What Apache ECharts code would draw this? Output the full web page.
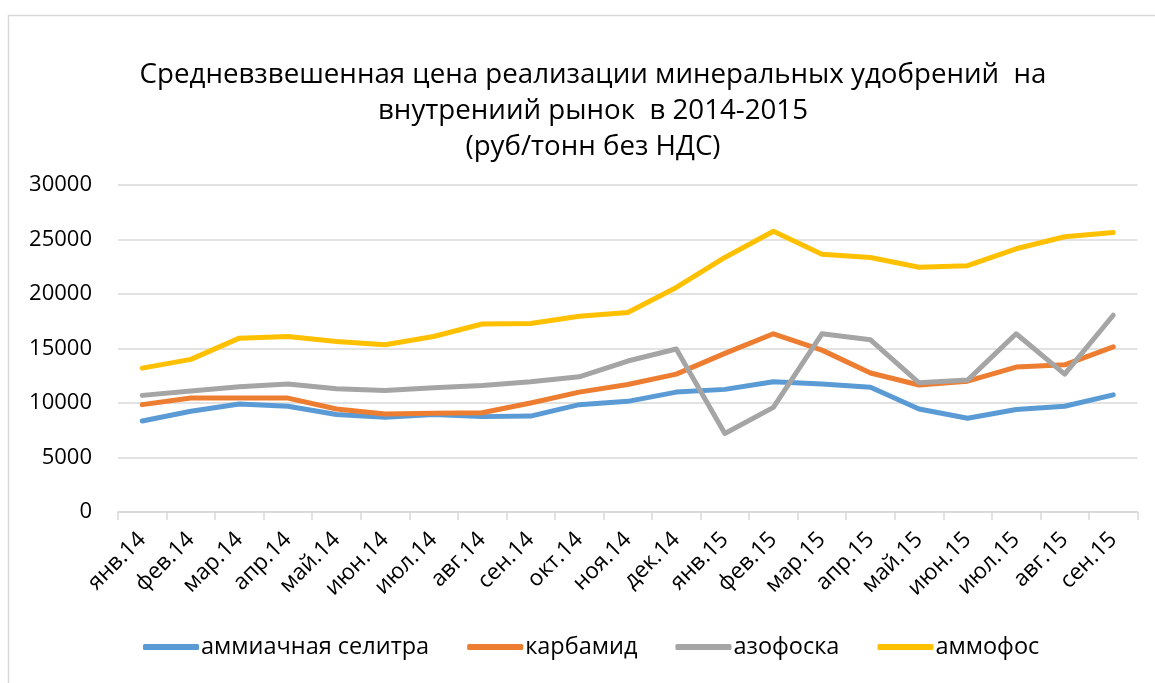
<!DOCTYPE html>
<html>
<head>
<meta charset="utf-8">
<script src="https://cdn.jsdelivr.net/npm/echarts@6/dist/echarts.min.js"></script>
<style>
  html, body { margin: 0; padding: 0; background: #fff; }
  #chartLineBox { width: 1155px; height: 683px; }
</style>
</head>
<body>
<div id="chartLineBox"></div>
<script>
// months
var months = ['янв.14', 'фев.14', 'мар.14', 'апр.14', 'май.14', 'июн.14', 'июл.14',
  'авг.14', 'сен.14', 'окт.14', 'ноя.14', 'дек.14', 'янв.15', 'фев.15', 'мар.15',
  'апр.15', 'май.15', 'июн.15', 'июл.15', 'авг.15', 'сен.15'];

// руб/тонн
var selitra = [8350, 9250, 9900, 9700, 8950, 8700, 8950, 8750, 8800, 9850, 10150,
  11000, 11250, 11950, 11750, 11450, 9450, 8600, 9400, 9700, 10750];
var karbamid = [9850, 10450, 10450, 10450, 9450, 9000, 9050, 9100, 10000, 11000, 11700,
  12650, 14550, 16350, 14850, 12750, 11650, 12000, 13300, 13500, 15150];
var azofoska = [10700, 11100, 11500, 11750, 11300, 11150, 11400, 11600, 11950, 12400, 13850,
  14950, 7200, 9600, 16350, 15800, 11850, 12100, 16350, 12650, 18050];
var ammofos = [13200, 14000, 15950, 16100, 15650, 15350, 16100, 17250, 17300, 17950, 18300,
  20600, 23350, 25750, 23650, 23350, 22450, 22600, 24150, 25250, 25650];

var seriesNames = ['аммиачная селитра', 'карбамид', 'азофоска', 'аммофос'];
var colors = ['#5b9bd5', '#ed7d31', '#a5a5a5', '#ffc000'];
var yTicks = [0, 5000, 10000, 15000, 20000, 25000, 30000];

var font = '"Open Sans", "Noto Sans", sans-serif';

var Chart = echarts.init(document.getElementById('chartLineBox'));

function mkSeries(name, data, i) {
  return {
    name: name,
    type: 'line',
    data: data,
    showSymbol: false,
    symbol: 'none',
    lineStyle: { width: 5, color: colors[i], cap: 'round', join: 'round' },
    itemStyle: { color: colors[i] },
    animation: false
  };
}

var option = {
  backgroundColor: '#fff',
  animation: false,
  graphic: [{
    type: 'rect',
    shape: { x: 8.5, y: 15.5, width: 1200, height: 700 },
    style: { fill: 'none', stroke: '#d9d9d9', lineWidth: 1.5 },
    silent: true
  }],
  title: {
    text: 'Средневзвешенная цена реализации минеральных удобрений  на\nвнутрениий рынок  в 2014-2015\n(руб/тонн без НДС)',
    left: 588,
    top: 52,
    textAlign: 'center',
    textStyle: {
      fontFamily: font,
      fontSize: 27.7,
      fontWeight: 'normal',
      color: '#000',
      lineHeight: 36,
      align: 'center'
    }
  },
  legend: {
    data: seriesNames,
    top: 635,
    left: 143,
    padding: 0,
    itemWidth: 56,
    itemHeight: 6,
    itemGap: 38,
    icon: 'roundRect',
    textStyle: { fontFamily: font, fontSize: 23.5, color: '#000', padding: [0, 0, 0, -3] }
  },
  grid: {
    left: 118,
    right: 17.5,
    top: 185,
    bottom: 171
  },
  xAxis: {
    type: 'category',
    data: months,
    boundaryGap: true,
    axisLine: { lineStyle: { color: '#d9d9d9', width: 1.5 } },
    axisTick: { show: true, length: 8, lineStyle: { color: '#d9d9d9', width: 1.5 } },
    axisLabel: {
      rotate: 45,
      interval: 0,
      margin: 24,
      fontFamily: font,
      fontSize: 22.5,
      color: '#000'
    }
  },
  yAxis: {
    type: 'value',
    min: yTicks[0],
    max: yTicks[yTicks.length - 1],
    interval: 5000,
    axisLine: { show: false },
    axisTick: { show: false },
    splitLine: { lineStyle: { color: '#d9d9d9', width: 1.5 } },
    axisLabel: {
      margin: 26,
      fontFamily: font,
      fontSize: 22,
      color: '#000',
      formatter: function (v) { return String(v); }
    }
  },
  series: [
    mkSeries(seriesNames[0], selitra, 0),
    mkSeries(seriesNames[1], karbamid, 1),
    mkSeries(seriesNames[2], azofoska, 2),
    mkSeries(seriesNames[3], ammofos, 3)
  ]
};

Chart.setOption(option);
</script>
</body>
</html>
